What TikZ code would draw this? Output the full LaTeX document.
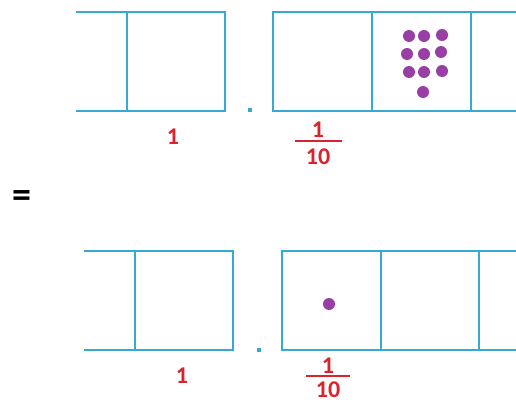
\documentclass[tikz,border=0pt]{standalone}
\usepackage{fontspec}
\setmainfont{Carlito}
\definecolor{boxblue}{RGB}{52,170,212}
\definecolor{labred}{RGB}{218,35,45}
\definecolor{dotpurple}{RGB}{152,62,165}
\begin{document}
\begin{tikzpicture}[x=1pt,y=-1pt,
  boxline/.style={draw=boxblue,line width=1.6pt},
  lab/.style={text=labred,font=\fontsize{24}{26}\selectfont\bfseries,inner sep=0pt},
  fracbar/.style={draw=labred,line width=1.6pt},
  counter/.style={fill=dotpurple},
  point/.style={fill=boxblue}]
\useasboundingbox (0,0) rectangle (516,404);
% top row
\draw[boxline] (76,12) -- (225,12) -- (225,111) -- (76,111);
\draw[boxline] (127,12) -- (127,111);
\fill[point] (248,108) rectangle (252,112);
\draw[boxline] (516,12) -- (273,12) -- (273,111) -- (516,111);
\draw[boxline] (372,12) -- (372,111);
\draw[boxline] (471,12) -- (471,111);
\foreach \px/\py in {409/36,424/36,442/35,407/54,424/54,441/52,409/72,424/72,442/71,423/92}
  \fill[counter] (\px,\py) circle (6);
\node[lab] (one1) at (173,137) {1};
\node[lab] (fn1) at (318,130) {1};
\draw[fracbar] (295,141) -- (342,141);
\node[lab] (fd1) at (318,157) {10};
% equals
\node[font=\fontsize{38}{40}\selectfont\bfseries,inner sep=0pt] (eq) at (22,199.5) {=};
% bottom row
\draw[boxline] (84,251) -- (233,251) -- (233,350) -- (84,350);
\draw[boxline] (135,251) -- (135,350);
\fill[point] (257,348) rectangle (261,352);
\draw[boxline] (516,251) -- (282,251) -- (282,350) -- (516,350);
\draw[boxline] (381,251) -- (381,350);
\draw[boxline] (479,251) -- (479,350);
\fill[counter] (329,304) circle (6);
\node[lab] (one2) at (182,376) {1};
\node[lab] (fn2) at (328,366) {1};
\draw[fracbar] (306,376) -- (350,376);
\node[lab] (fd2) at (328,390) {10};
\end{tikzpicture}
\end{document}
